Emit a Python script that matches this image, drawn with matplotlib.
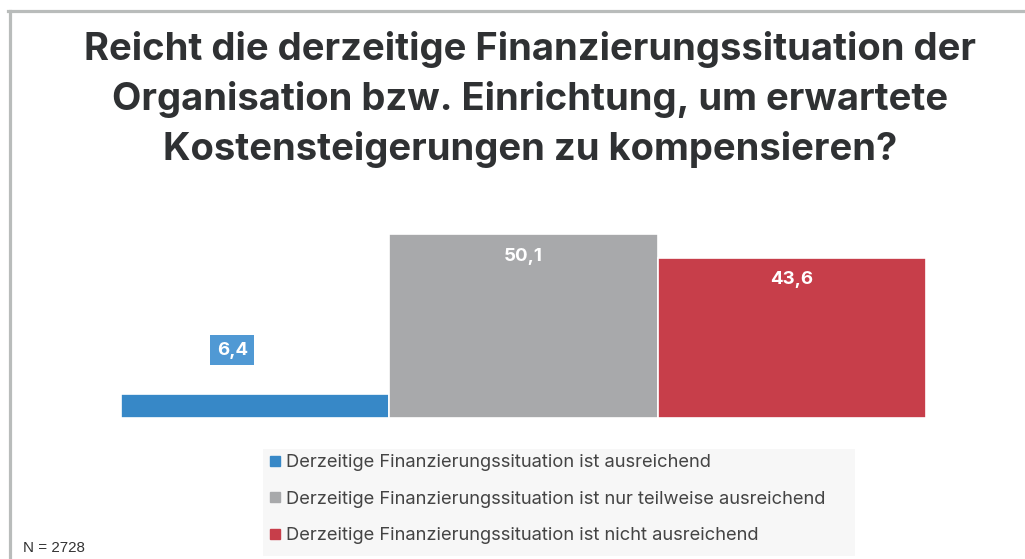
import matplotlib.pyplot as plt
from matplotlib.patches import Rectangle
from matplotlib.lines import Line2D

categories = ['Derzeitige Finanzierungssituation ist ausreichend',
              'Derzeitige Finanzierungssituation ist nur teilweise ausreichend',
              'Derzeitige Finanzierungssituation ist nicht ausreichend']
values = [6.4, 50.1, 43.6]
labels = ['6,4', '50,1', '43,6']
colors = ['#3788c7', '#a8a9ab', '#c73e4a']

W, H = 1025, 559
fig = plt.figure(figsize=(W / 100, H / 100), dpi=100)

# grey frame on top and left
fig.add_artist(Line2D([8 / W, 1], [1 - 10.5 / H, 1 - 10.5 / H], color='#b9bcbb', lw=2.3))
fig.add_artist(Line2D([9.5 / W, 9.5 / W], [0, 1 - 10.5 / H], color='#b9bcbb', lw=2.3))

fig.text(0.517, 1 - 31 / H,
         'Reicht die derzeitige Finanzierungssituation der\n'
         'Organisation bzw. Einrichtung, um erwartete\n'
         'Kostensteigerungen zu kompensieren?',
         ha='center', va='top', fontsize=27.5, fontweight='bold', color='#2f3133',
         family='Inter', linespacing=1.45, transform=fig.transFigure)

ax = fig.add_axes([121 / W, 1 - 418 / H, 805 / W, 202 / H])
x = list(range(len(values)))
bars = ax.bar(x, values, width=1.0, color=colors, edgecolor='white', linewidth=1.2)
ax.set_xlim(-0.5, 2.5)
ax.set_ylim(0, 55)
ax.axis('off')

ax.text(x[0] - 0.085, 18.5, labels[0], ha='center', va='center', color='white',
        fontsize=13.5, fontweight='bold', family='Inter',
        bbox=dict(boxstyle='square,pad=0.35', fc='#5099d4', ec='none'))
for i in (1, 2):
    ax.text(x[i], values[i] - 6, labels[i], ha='center', va='center', color='white',
            fontsize=13.5, fontweight='bold', family='Inter')

fig.add_artist(Rectangle((263 / W, 1 - 556 / H), 592 / W, 107 / H,
                         transform=fig.transFigure, fc='#f7f7f7', ec='none'))
handles = [Line2D([], [], ls='none', marker='s', ms=7, color=c) for c in colors]
fig.legend(handles, categories, loc='upper left', bbox_to_anchor=(260 / W, 1 - 445 / H),
           frameon=False, handlelength=0.6, handletextpad=0.3,
           labelspacing=1.06, borderpad=0, labelcolor='#444444',
           prop={'family': 'Inter', 'size': 13.25})

fig.text(23 / W, 1 - 548 / H, 'N = 2728', ha='left', va='center', fontsize=10.9,
         color='#333333', family='Liberation Sans')

fig.savefig('out.png', dpi=100)
